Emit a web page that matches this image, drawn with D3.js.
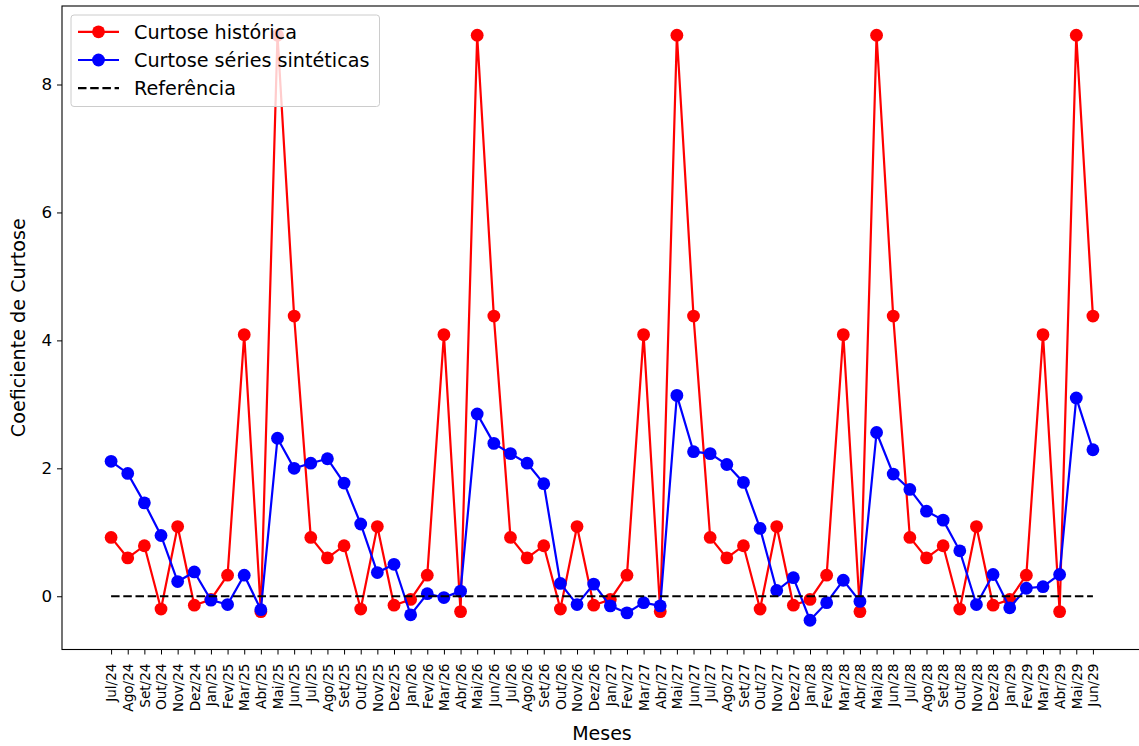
<!DOCTYPE html>
<html><head><meta charset="utf-8">
<script src="https://cdn.jsdelivr.net/npm/d3@7"></script>
<style>body{margin:0;background:#fff;}svg{display:block;font-family:"DejaVu Sans",sans-serif;}</style>
</head><body><svg id="c" width="1139" height="746"></svg>
<script>
const months = ["Jul/24","Ago/24","Set/24","Out/24","Nov/24","Dez/24","Jan/25","Fev/25","Mar/25","Abr/25","Mai/25","Jun/25",
"Jul/25","Ago/25","Set/25","Out/25","Nov/25","Dez/25","Jan/26","Fev/26","Mar/26","Abr/26","Mai/26","Jun/26",
"Jul/26","Ago/26","Set/26","Out/26","Nov/26","Dez/26","Jan/27","Fev/27","Mar/27","Abr/27","Mai/27","Jun/27",
"Jul/27","Ago/27","Set/27","Out/27","Nov/27","Dez/27","Jan/28","Fev/28","Mar/28","Abr/28","Mai/28","Jun/28",
"Jul/28","Ago/28","Set/28","Out/28","Nov/28","Dez/28","Jan/29","Fev/29","Mar/29","Abr/29","Mai/29","Jun/29"];
const historical = [0.92,0.60,0.79,-0.20,1.09,-0.14,-0.05,0.33,4.09,-0.24,8.77,4.38,
0.92,0.60,0.79,-0.20,1.09,-0.14,-0.05,0.33,4.09,-0.24,8.77,4.38,
0.92,0.60,0.79,-0.20,1.09,-0.14,-0.05,0.33,4.09,-0.24,8.77,4.38,
0.92,0.60,0.79,-0.20,1.09,-0.14,-0.05,0.33,4.09,-0.24,8.77,4.38,
0.92,0.60,0.79,-0.20,1.09,-0.14,-0.05,0.33,4.09,-0.24,8.77,4.38];
const synthetic = [2.11,1.92,1.46,0.95,0.23,0.38,-0.06,-0.13,0.33,-0.21,2.47,2.00,
2.08,2.15,1.77,1.13,0.37,0.50,-0.29,0.04,-0.02,0.08,2.85,2.39,
2.23,2.08,1.76,0.20,-0.13,0.19,-0.15,-0.26,-0.10,-0.15,3.14,2.26,
2.23,2.06,1.78,1.06,0.09,0.29,-0.375,-0.10,0.25,-0.08,2.56,1.91,
1.67,1.33,1.19,0.71,-0.13,0.34,-0.18,0.125,0.15,0.34,3.10,2.29];
const reference = 0;
const yTicks = [0,2,4,6,8];
const legendLabels = ["Curtose histórica","Curtose séries sintéticas","Referência"];

const FONT = "DejaVu Sans";
const svg = d3.select("#c");
const L = 62, R = 1142, T = 6, B = 649.5;
const n = months.length;
const x = d3.scaleLinear().domain([-0.05*(n-1), (n-1)*1.05]).range([L, R]);
const allv = historical.concat(synthetic);
const ymin = d3.min(allv), ymax = d3.max(allv), pad = (ymax-ymin)*0.05;
const y = d3.scaleLinear().domain([ymin-pad, ymax+pad]).range([B, T]);

// axes
const xAxis = d3.axisBottom(x).tickValues(d3.range(n)).tickFormat(i => months[i]).tickSize(5).tickPadding(3);
const gx = svg.append("g").attr("transform", `translate(0,${B})`).call(xAxis).attr("font-family", FONT);
gx.select(".domain").remove();
gx.selectAll(".tick line").attr("stroke","#000").attr("stroke-width",1);
gx.selectAll(".tick text").attr("font-size","13.6px").attr("fill","#000")
  .attr("transform","rotate(-90)").attr("text-anchor","end").attr("dy","0.35em").attr("x",-14).attr("y",0);

const yAxis = d3.axisLeft(y).tickValues(yTicks).tickFormat(d3.format("d")).tickSize(5).tickPadding(5);
const gy = svg.append("g").attr("transform", `translate(${L},0)`).call(yAxis).attr("font-family", FONT);
gy.select(".domain").remove();
gy.selectAll(".tick line").attr("stroke","#000").attr("stroke-width",1);
gy.selectAll(".tick text").attr("font-size","16.7px").attr("fill","#000");

const plot = svg.append("g");
const line = d3.line().x((d,i)=>x(i)).y(d=>y(d));
plot.append("path").datum(historical).attr("d", line).attr("fill","none").attr("stroke","#ff0000").attr("stroke-width",2.2);
plot.selectAll("circle.h").data(historical).join("circle").attr("class","h").attr("cx",(d,i)=>x(i)).attr("cy",d=>y(d)).attr("r",6.4).attr("fill","#ff0000");
plot.append("path").datum(synthetic).attr("d", line).attr("fill","none").attr("stroke","#0000ff").attr("stroke-width",2.2);
plot.selectAll("circle.s").data(synthetic).join("circle").attr("class","s").attr("cx",(d,i)=>x(i)).attr("cy",d=>y(d)).attr("r",6.4).attr("fill","#0000ff");
plot.append("line").attr("x1",x(0)).attr("x2",x(n-1)).attr("y1",y(reference)).attr("y2",y(reference))
  .attr("stroke","#000").attr("stroke-width",2.2).attr("stroke-dasharray","8.5,3.7");

// frame
svg.append("rect").attr("x",L).attr("y",T).attr("width",R-L).attr("height",B-T).attr("fill","none").attr("stroke","#000").attr("stroke-width",1.1);

// axis labels
svg.append("text").attr("x",(L+R)/2).attr("y",739.5).attr("text-anchor","middle").attr("font-size","19px").text("Meses");
svg.append("text").attr("transform",`translate(25,${(T+B)/2}) rotate(-90)`).attr("text-anchor","middle").attr("font-size","19.2px").text("Coeficiente de Curtose");

// legend
const lg = svg.append("g");
lg.append("rect").attr("x",71).attr("y",15).attr("width",308.5).attr("height",91.5).attr("rx",3).attr("fill","#fff").attr("fill-opacity",0.8).attr("stroke","#cccccc");
const cols = ["#ff0000","#0000ff","#000"];
legendLabels.forEach((t,i)=>{
  const yy = 31.8 + i*28.2;
  const l = lg.append("line").attr("x1",78).attr("x2",119).attr("y1",yy).attr("y2",yy).attr("stroke",cols[i]).attr("stroke-width",2.2);
  if(i<2) lg.append("circle").attr("cx",98.5).attr("cy",yy).attr("r",6.4).attr("fill",cols[i]);
  else l.attr("stroke-dasharray","8.5,3.7");
  lg.append("text").attr("x",134).attr("y",yy).attr("dy","0.36em").attr("font-size","19.2px").text(t);
});
</script></body></html>
